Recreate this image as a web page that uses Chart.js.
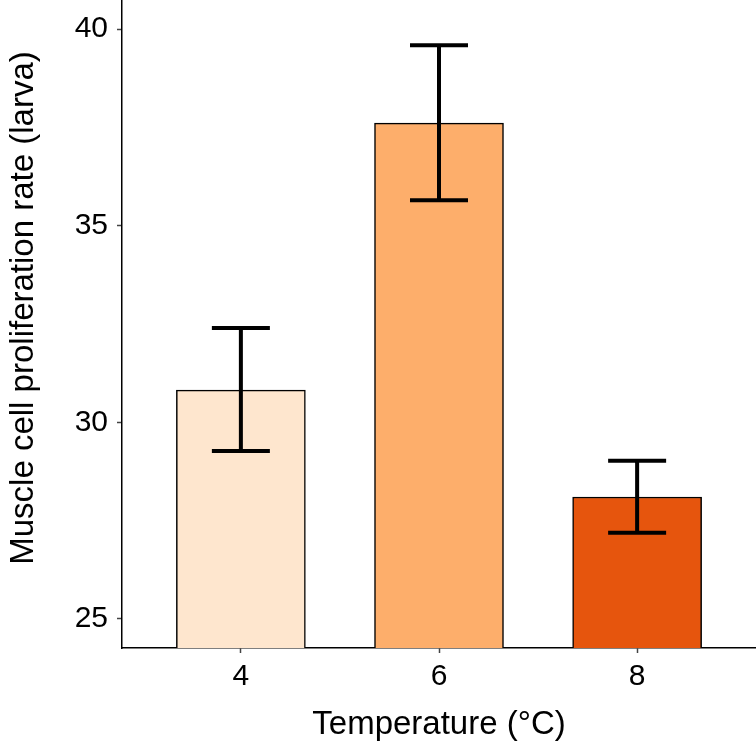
<!DOCTYPE html>
<html>
<head>
<meta charset="utf-8">
<script src="https://cdn.jsdelivr.net/npm/chart.js@4"></script>
<style>
  body { margin: 0; background: #fff; }
  #wrap { width: 756px; height: 748px; }
</style>
</head>
<body>
<div id="wrap"><canvas id="myChart" width="756" height="748"></canvas></div>
<script>
// data
const temps = ['4', '6', '8'];
const rates = [30.82, 37.61, 28.10];
const errLow = [29.27, 35.65, 27.19];
const errHigh = [32.40, 39.59, 29.02];
const barColors = ['#FEE6CE', '#FDAE6B', '#E6550D'];
const yTicks = [25, 30, 35, 40];
const yTitle = 'Muscle cell proliferation rate (larva)';
const xTitle = 'Temperature (°C)';

const FONT = 'Liberation Sans, Arial, Helvetica, sans-serif';

// draws the error bars on top of the bars
const errorBars = {
  id: 'errorBars',
  afterDatasetsDraw(chart) {
    const ctx = chart.ctx;
    const xs = chart.scales.x;
    const ys = chart.scales.y;
    ctx.save();
    ctx.strokeStyle = '#000';
    ctx.lineWidth = 4;
    ctx.lineCap = 'butt';
    for (let i = 0; i < temps.length; i++) {
      const x = xs.getPixelForValue(i + 1);
      const top = ys.getPixelForValue(errHigh[i]);
      const bot = ys.getPixelForValue(errLow[i]);
      ctx.beginPath();
      ctx.moveTo(x, top); ctx.lineTo(x, bot);
      ctx.moveTo(x - 29, top); ctx.lineTo(x + 29, top);
      ctx.moveTo(x - 29, bot); ctx.lineTo(x + 29, bot);
      ctx.stroke();
    }
    ctx.restore();
  }
};

// y title drawn by hand, it sits a bit above the panel centre in the original
const yAxisTitle = {
  id: 'yAxisTitle',
  afterDraw(chart) {
    const ctx = chart.ctx;
    ctx.save();
    ctx.translate(33, 308);
    ctx.rotate(-Math.PI / 2);
    ctx.font = '33px ' + FONT;
    ctx.fillStyle = '#000';
    ctx.textAlign = 'center';
    ctx.textBaseline = 'alphabetic';
    ctx.fillText(yTitle, 0, 0);
    ctx.restore();
  }
};

const data = {
  datasets: [{
    data: rates.map((v, i) => ({ x: i + 1, y: v })),
    backgroundColor: barColors,
    borderColor: '#000',
    borderWidth: 1.5,
    barThickness: 129
  }]
};

const config = {
  type: 'bar',
  data: data,
  plugins: [errorBars, yAxisTitle],
  options: {
    responsive: false,
    animation: false,
    layout: { padding: 0 },
    plugins: { legend: { display: false }, tooltip: { enabled: false } },
    scales: {
      x: {
        type: 'linear',
        offset: false,
        min: 0.4,
        max: 3.6,
        afterBuildTicks: s => { s.ticks = [1, 2, 3].map(v => ({ value: v })); },
        afterFit: s => { s.height = 100; s.paddingLeft = 0; s.paddingRight = 0; },
        ticks: {
          callback: v => temps[v - 1],
          color: '#000',
          font: { family: FONT, size: 30 },
          padding: 6,
          maxRotation: 0
        },
        grid: { display: true, offset: false, drawOnChartArea: false, tickLength: 5, tickColor: '#444', tickWidth: 1.5 },
        border: { color: '#000', width: 1.5 },
        title: {
          display: true,
          text: xTitle,
          color: '#000',
          font: { family: FONT, size: 33 },
          padding: { top: 0, bottom: 3 }
        }
      },
      y: {
        min: 24.26,
        max: 40.74,
        afterBuildTicks: s => { s.ticks = yTicks.map(v => ({ value: v })); },
        afterFit: s => { s.width = 122; s.paddingTop = 0; s.paddingBottom = 0; },
        ticks: {
          color: '#000',
          font: { family: FONT, size: 30 },
          padding: 9
        },
        grid: { display: true, drawOnChartArea: false, tickLength: 5, tickColor: '#444', tickWidth: 1.5 },
        border: { color: '#000', width: 1.5 },
        title: { display: false }
      }
    }
  }
};

let myChart = new Chart(document.getElementById('myChart'), config);
</script>
</body>
</html>
